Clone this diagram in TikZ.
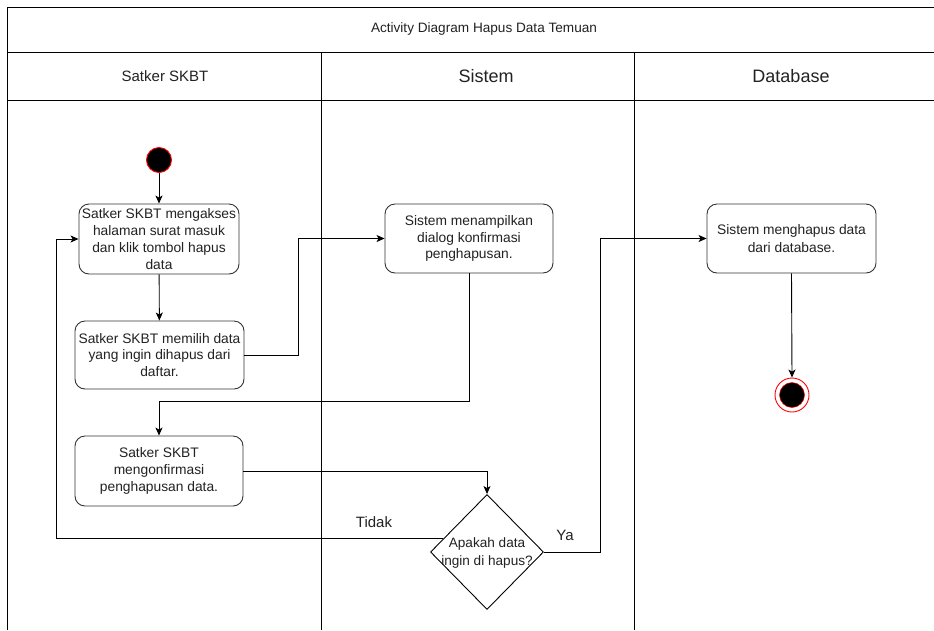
\documentclass[tikz,border=0pt]{standalone}
\usepackage{fontspec}
\setmainfont{Liberation Sans}
\usetikzlibrary{shapes.geometric,arrows.meta}
\definecolor{ink}{HTML}{222222}
\definecolor{edge}{HTML}{333333}
\definecolor{startred}{HTML}{FF0000}
\begin{document}
\begin{tikzpicture}[x=1pt,y=-1pt,
  lane/.style={draw=black,line width=0.9pt},
  act/.style={draw=edge,line width=0.9pt,rounded corners=10pt,fill=white,
    align=center,text=ink,inner sep=0pt,
    font=\fontsize{13.8}{16.8}\selectfont},
  arr/.style={draw=black,line width=0.9pt,-{Stealth[length=8pt,width=7pt,inset=2pt]}},
  hdr/.style={text=ink,inner sep=0pt},
  lbl/.style={text=ink,inner sep=0pt,font=\fontsize{15}{18}\selectfont}]
\useasboundingbox (0,0) rectangle (934,630);
\fill[white] (0,0) rectangle (934,630);

% pool frame, title row, header row and lane dividers
\draw[lane] (934,7) -- (7,7) -- (7,630);
\draw[lane] (7,52) -- (934,52);
\draw[lane] (7,100) -- (934,100);
\draw[lane] (321,52) -- (321,630);
\draw[lane] (634,52) -- (634,630);

\node[hdr,font=\fontsize{13.6}{16}\selectfont] (title) at (484,29) {Activity Diagram Hapus Data Temuan};
\node[hdr,font=\fontsize{15}{18}\selectfont] (laneA) at (165,76) {Satker SKBT};
\node[hdr,font=\fontsize{18}{21}\selectfont] (laneB) at (486,76) {Sistem};
\node[hdr,font=\fontsize{18}{21}\selectfont] (laneC) at (791,76) {Database};

% initial state
\node[circle,draw=startred,fill=black,line width=0.9pt,minimum size=25pt,inner sep=0pt] (start) at (159,160) {};

% actions
\node[act,minimum width=160pt,minimum height=70pt] (b1) at (159,239)
  {Satker SKBT mengakses\\halaman surat masuk\\dan klik tombol hapus\\data};
\node[act,minimum width=169pt,minimum height=68pt] (b2) at (159.5,355)
  {Satker SKBT memilih data\\yang ingin dihapus dari\\daftar.};
\node[act,minimum width=168pt,minimum height=69pt] (b3) at (469,238.5)
  {Sistem menampilkan\\dialog konfirmasi\\penghapusan.};
\node[act,minimum width=168pt,minimum height=70pt] (b4) at (159,471)
  {Satker SKBT\\mengonfirmasi\\penghapusan data.};
\node[act,minimum width=169pt,minimum height=69pt,font=\fontsize{13.8}{18}\selectfont] (b5) at (791.5,238.5)
  {Sistem menghapus data\\dari database.};

% decision
\node[diamond,draw=black,line width=0.9pt,fill=white,minimum width=113pt,minimum height=115pt,inner sep=0pt] (dia) at (487,552) {};
\node[align=center,text=ink,inner sep=0pt,font=\fontsize{13.6}{17.5}\selectfont] (diatext) at (487,553)
  {Apakah data\\ingin di hapus?};

% final state
\node[circle,draw=startred,fill=white,line width=0.9pt,minimum size=34pt,inner sep=0pt] (end) at (792,395) {};
\node[circle,draw=startred,fill=black,line width=0.5pt,minimum size=25pt,inner sep=0pt] (endcore) at (792,395) {};

% bend points of the routed connectors
\coordinate (j1) at (298,0);
\coordinate (j2) at (0,401);
\coordinate (j3) at (56,0);
\coordinate (j4) at (600,0);

% flows
\draw[arr] (start) -- (b1);
\draw[arr] (b1) -- (b2);
\draw[arr] (b2.east) -- (b2.east -| j1) |- (b3.west);
\draw[arr] (b3.south) -- (b3.south |- j2) -| (b4.north);
\draw[arr] (b4.east) -| (dia.north);
\draw[arr] (dia.163.5) -- (dia.163.5 -| j3) |- (b1.west);
\draw[arr] (dia.east) -- (dia.east -| j4) |- (b5.west);
\draw[arr] (b5.south) -- (end.north);

\node[lbl] (tidak) at (374,522) {Tidak};
\node[lbl] (ya) at (565,535) {Ya};
\end{tikzpicture}
\end{document}
